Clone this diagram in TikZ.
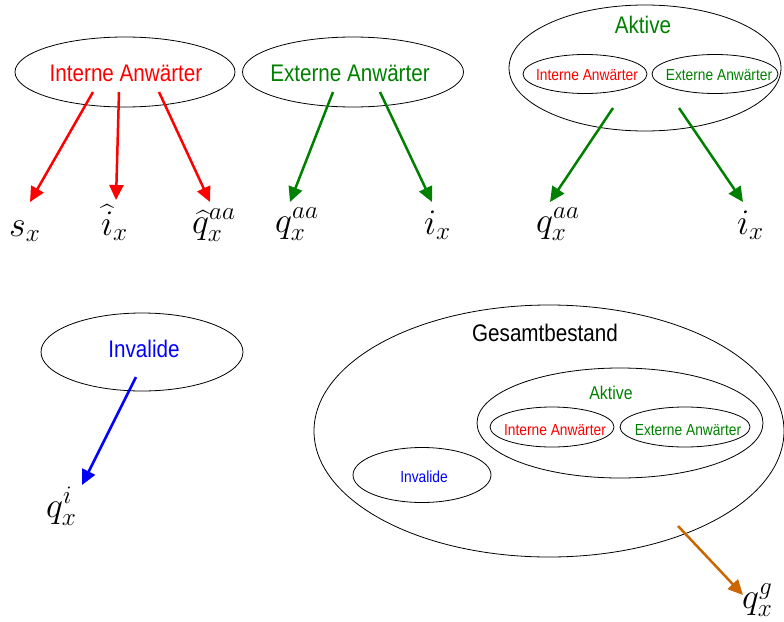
\RequirePackage{fix-cm}
\documentclass[tikz,border=0pt]{standalone}
\usepackage{exscale}
\usepackage{fontspec}
\setmainfont{Liberation Sans}[FakeStretch=0.86]
\usetikzlibrary{shapes.geometric,arrows.meta}
\definecolor{cred}{RGB}{255,0,0}
\definecolor{cgreen}{RGB}{0,128,0}
\definecolor{cblue}{RGB}{0,0,255}
\definecolor{corange}{RGB}{204,102,0}
\newcommand{\bigfs}{\fontsize{24}{28}\selectfont}
\newcommand{\smallfs}{\fontsize{16}{19}\selectfont}
\newcommand{\midfs}{\fontsize{18.5}{22}\selectfont}
\newcommand{\mathfs}{\fontsize{36}{40}\selectfont}
\tikzset{
  set/.style={ellipse, draw=black, line width=0.8pt, inner sep=0pt},
  lbl/.style={inner sep=0pt, anchor=center},
  mlbl/.style={inner sep=0pt, anchor=base west, font=\mathfs},
  flow/.style={line width=2.5pt, -{Triangle[length=15pt,width=14pt]}},
}
\begin{document}
\begin{tikzpicture}[x=1pt,y=-1pt]
\useasboundingbox (0,0) rectangle (784,621);

% --- top row: single groups ---
\node[set, minimum width=220, minimum height=70] (ia) at (125,72) {};
\node[lbl, text=cred, font=\bigfs] (iat) at (126,73) {Interne Anwärter};
\node[set, minimum width=221, minimum height=70] (ea) at (353,72) {};
\node[lbl, text=cgreen, font=\bigfs] (eat) at (350,73) {Externe Anwärter};

% Aktive with its two subgroups
\node[set, minimum width=272, minimum height=126] (ak) at (645,68) {};
\node[lbl, text=cgreen, font=\bigfs] (akt) at (643,25) {Aktive};
\node[set, minimum width=124, minimum height=39] (aki) at (585,74) {};
\node[lbl, text=cred, font=\smallfs] (akit) at (587,75) {Interne Anwärter};
\node[set, minimum width=126, minimum height=39] (ake) at (715,74) {};
\node[lbl, text=cgreen, font=\smallfs] (aket) at (719,75) {Externe Anwärter};

% --- symbols of the top row ---
\node[mlbl] (sx) at (9,236) {$s_x$};
\node[mlbl] (ihx) at (101,235) {$\widehat{i}_x$};
\node[mlbl] (qhx) at (192,233) {$\widehat{q}^{aa}_x$};
\node[mlbl] (qex) at (275,232) {$q^{aa}_x$};
\node[mlbl] (iex) at (424,234) {$i_x$};
\node[mlbl] (qax) at (536,232) {$q^{aa}_x$};
\node[mlbl] (iax) at (737,234) {$i_x$};

% arrow ends
\coordinate (r1s) at (93,92);   \coordinate (r1e) at (30,202);
\coordinate (r2s) at (119,92);  \coordinate (r2e) at (116,200);
\coordinate (r3s) at (159,92);  \coordinate (r3e) at (210,202);
\coordinate (g1s) at (333,92);  \coordinate (g1e) at (290,202);
\coordinate (g2s) at (380,92);  \coordinate (g2e) at (432,202);
\coordinate (g3s) at (613,108); \coordinate (g3e) at (550,202);
\coordinate (g4s) at (679,108); \coordinate (g4e) at (743,202);

\draw[flow, cred] (r1s) -- (r1e);
\draw[flow, cred] (r2s) -- (r2e);
\draw[flow, cred] (r3s) -- (r3e);
\draw[flow, cgreen] (g1s) -- (g1e);
\draw[flow, cgreen] (g2s) -- (g2e);
\draw[flow, cgreen] (g3s) -- (g3e);
\draw[flow, cgreen] (g4s) -- (g4e);

% --- Invalide ---
\node[set, minimum width=202, minimum height=78] (inv) at (142,352) {};
\node[lbl, text=cblue, font=\bigfs] (invt) at (144,349) {Invalide};
\node[mlbl] (qix) at (46,517) {$q^{i}_x$};
\coordinate (b1s) at (136,377); \coordinate (b1e) at (82,485);
\draw[flow, cblue] (b1s) -- (b1e);

% --- Gesamtbestand ---
\node[set, minimum width=470, minimum height=252] (ges) at (549,431) {};
\node[lbl, text=black, font=\bigfs] (gest) at (545,333) {Gesamtbestand};
\node[set, minimum width=286, minimum height=110] (gak) at (620,423) {};
\node[lbl, text=cgreen, font=\midfs] (gakt) at (611,393) {Aktive};
\node[set, minimum width=124, minimum height=40] (gai) at (552,427) {};
\node[lbl, text=cred, font=\smallfs] (gait) at (555,430) {Interne Anwärter};
\node[set, minimum width=130, minimum height=40] (gae) at (685,427) {};
\node[lbl, text=cgreen, font=\smallfs] (gaet) at (688,430) {Externe Anwärter};
\node[set, minimum width=138, minimum height=55] (ginv) at (422,475) {};
\node[lbl, text=cblue, font=\smallfs] (ginvt) at (424,477) {Invalide};

\node[mlbl] (qgx) at (742,608) {$q^{g}_x$};
\coordinate (o1s) at (678,526); \coordinate (o1e) at (743,595);
\draw[flow, corange] (o1s) -- (o1e);
\end{tikzpicture}
\end{document}
